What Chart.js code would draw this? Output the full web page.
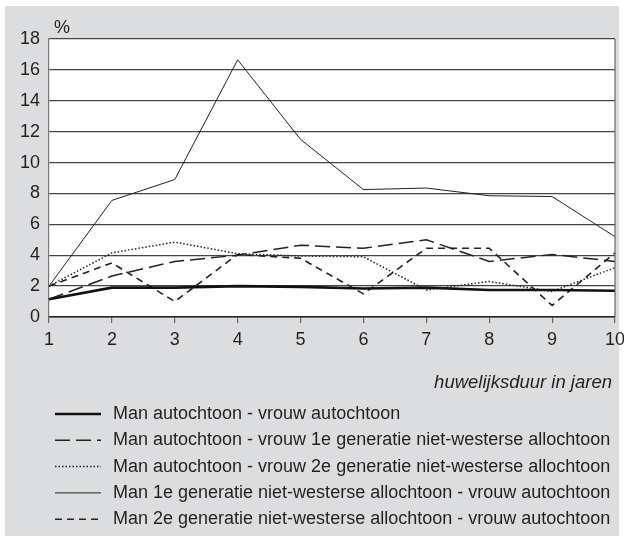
<!DOCTYPE html>
<html><head><meta charset="utf-8">
<script src="https://cdn.jsdelivr.net/npm/chart.js@4/dist/chart.umd.min.js"></script>
<style>html,body{margin:0;padding:0;background:#fff}#wrap{width:624px;height:541px}</style>
</head><body><div id="wrap"><canvas id="c" width="624" height="541"></canvas></div>
<script>
const categories = ['1','2','3','4','5','6','7','8','9','10'];
const seriesNames = [
  'Man autochtoon - vrouw autochtoon',
  'Man autochtoon - vrouw 1e generatie niet-westerse allochtoon',
  'Man autochtoon - vrouw 2e generatie niet-westerse allochtoon',
  'Man 1e generatie niet-westerse allochtoon - vrouw autochtoon',
  'Man 2e generatie niet-westerse allochtoon - vrouw autochtoon'
];
const autAut   = [1.15, 1.9, 1.9, 2.0, 1.95, 1.85, 1.9, 1.75, 1.75, 1.7];
const autVr1e  = [1.15, 2.65, 3.6, 4.0, 4.65, 4.45, 5.0, 3.6, 4.05, 3.6];
const autVr2e  = [2.0, 4.15, 4.85, 4.1, 3.95, 3.9, 1.75, 2.3, 1.65, 3.2];
const man1eAut = [2.0, 7.55, 8.9, 16.65, 11.5, 8.25, 8.35, 7.85, 7.8, 5.2];
const man2eAut = [2.0, 3.5, 1.0, 4.05, 3.8, 1.5, 4.45, 4.45, 0.75, 4.15];
const yTicks = [0,2,4,6,8,10,12,14,16,18];
const xTitle = 'huwelijksduur in jaren';
const yUnit = '%';

const FONT = '"Liberation Sans", Arial, Helvetica, sans-serif';
const INK = '#231f20';
const styles = [
  {borderWidth: 2.6, borderDash: [], borderColor: '#111'},
  {borderWidth: 1.5, borderDash: [15, 6], borderColor: '#222'},
  {borderWidth: 1.5, borderDash: [1.5, 2], borderColor: '#222'},
  {borderWidth: 1, borderDash: [], borderColor: '#222'},
  {borderWidth: 1.6, borderDash: [7, 5], borderColor: '#222'}
];
const values = [autAut, autVr1e, autVr2e, man1eAut, man2eAut];
const datasets = values.map((v, i) => Object.assign({
  label: seriesNames[i], data: v, pointRadius: 0, tension: 0, fill: false
}, styles[i]));

const decor = {
  id: 'decor',
  beforeDraw(chart) {
    const ctx = chart.ctx, a = chart.chartArea;
    ctx.save();
    ctx.fillStyle = '#fff';
    ctx.fillRect(0, 0, chart.width, chart.height);
    ctx.fillStyle = '#dcdddf';
    ctx.fillRect(5, 6, 614, 530);
    ctx.fillStyle = '#fff';
    ctx.fillRect(a.left, a.top, a.right - a.left, a.bottom - a.top);
    ctx.restore();
  },
  afterDraw(chart) {
    const ctx = chart.ctx, a = chart.chartArea;
    ctx.save();
    ctx.strokeStyle = '#666';
    ctx.lineWidth = 1.2;
    ctx.beginPath();
    ctx.moveTo(a.right, a.top);
    ctx.lineTo(a.right, a.bottom);
    ctx.stroke();
    ctx.fillStyle = INK;
    ctx.font = '18px ' + FONT;
    ctx.textAlign = 'left';
    ctx.textBaseline = 'middle';
    ctx.fillText(yUnit, a.left + 5, 28);
    ctx.font = 'italic 18.5px ' + FONT;
    ctx.textAlign = 'right';
    ctx.fillText(xTitle, 612, 383);
    ctx.font = '18px ' + FONT;
    ctx.textAlign = 'left';
    chart.data.datasets.forEach((ds, i) => {
      const y = 414 + i * 26.3;
      ctx.strokeStyle = ds.borderColor;
      ctx.lineWidth = ds.borderWidth;
      ctx.setLineDash(ds.borderDash || []);
      ctx.beginPath();
      ctx.moveTo(55, y);
      ctx.lineTo(101, y);
      ctx.stroke();
      ctx.setLineDash([]);
      ctx.fillStyle = INK;
      ctx.fillText(ds.label, 113, y);
    });
    ctx.restore();
  }
};

new Chart(document.getElementById('c'), {
  type: 'line',
  data: {labels: categories, datasets},
  options: {
    responsive: false,
    animation: false,
    devicePixelRatio: 1,
    layout: {padding: {top: 39, right: 9, left: 0, bottom: 0}},
    plugins: {legend: {display: false}, tooltip: {enabled: false}},
    scales: {
      x: {
        type: 'category',
        offset: false,
        grid: {display: true, drawOnChartArea: false, drawTicks: true, tickLength: 6, color: '#666', lineWidth: 1.2},
        border: {display: true, color: '#222', width: 1.5},
        ticks: {color: INK, font: {family: FONT, size: 18}, padding: 6, maxRotation: 0, autoSkip: false},
        afterFit(s) { s.height = 224; s.paddingLeft = 0; s.paddingRight = 0; }
      },
      y: {
        min: 0, max: 18,
        afterBuildTicks(s) { s.ticks = yTicks.map(v => ({value: v})); },
        grid: {color: '#444', lineWidth: 1.3, drawTicks: false},
        border: {display: true, color: '#777', width: 1.2},
        ticks: {color: INK, font: {family: FONT, size: 18}, padding: 9},
        afterFit(s) { s.width = 49; s.paddingTop = 0; s.paddingBottom = 0; }
      }
    }
  },
  plugins: [decor]
});
</script>
</body></html>
